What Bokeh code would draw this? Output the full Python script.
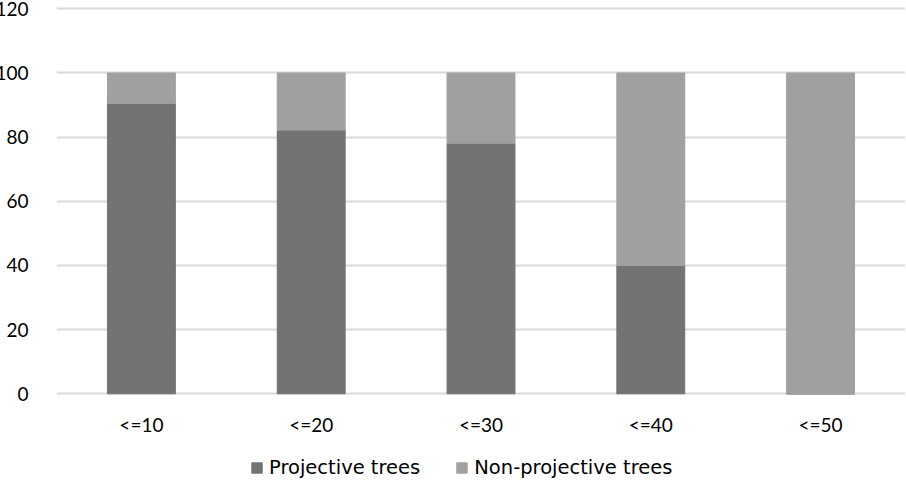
from bokeh.plotting import figure
from bokeh.models import ColumnDataSource, FactorRange, Range1d, FixedTicker, Legend, LegendItem
from bokeh.core.properties import value
from bokeh.embed import file_html
from bokeh.resources import INLINE

categories = ["<=10", "<=20", "<=30", "<=40", "<=50"]
projective = [90.5, 82.2, 78.1, 40.0, 0.0]
non_projective = [9.5, 17.8, 21.9, 60.0, 100.0]
y_ticks = [0, 20, 40, 60, 80, 100, 120]
series_names = ["Projective trees", "Non-projective trees"]
colors = ["#737373", "#a0a0a0"]

source = ColumnDataSource(data=dict(cat=categories, proj=projective, nonproj=non_projective,
                                    base=[0] * len(categories)))

p = figure(x_range=FactorRange(*categories, range_padding=0),
           y_range=Range1d(-29.83, 122.59),
           frame_width=849, frame_height=489,
           x_axis_location=None,
           min_border_left=57, min_border_right=0, min_border_top=0, min_border_bottom=0,
           output_backend="svg", toolbar_location=None)
p.margin = (0, 0, 0, -8)

rs = p.vbar_stack(["proj", "nonproj"], x="cat", width=0.4, color=colors,
                  line_color=colors, line_width=1, source=source)

# category labels under the bars
p.text(x="cat", y="base", text="cat", source=source,
       text_font=value("Lato"), text_font_size="19px", text_color="#000000",
       text_align="center", text_baseline="middle", y_offset=31)

p.outline_line_color = None
p.xgrid.grid_line_color = None
p.ygrid.grid_line_color = "#d9d9d9"
p.ygrid.grid_line_width = 2
p.ygrid.ticker = FixedTicker(ticks=y_ticks)

p.yaxis.ticker = FixedTicker(ticks=y_ticks)
p.yaxis.axis_line_color = None
p.yaxis.major_tick_line_color = None
p.yaxis.minor_tick_line_color = None
p.yaxis.major_label_standoff = 22
p.yaxis.major_label_text_font = "Lato"
p.yaxis.major_label_text_font_size = "19px"
p.yaxis.major_label_text_color = "#000000"

legend = Legend(items=[LegendItem(label=series_names[0], renderers=[rs[0]]),
                       LegendItem(label=series_names[1], renderers=[rs[1]])],
                orientation="horizontal", location=(194, 10),
                glyph_width=13, glyph_height=13, label_standoff=6, spacing=35,
                label_height=20,
                label_text_font="DejaVu Sans", label_text_font_size="19.5px",
                label_text_color="#000000",
                border_line_color=None, background_fill_alpha=0,
                padding=0, margin=0)
p.add_layout(legend, "center")

open("out.html", "w").write(file_html(p, INLINE))
